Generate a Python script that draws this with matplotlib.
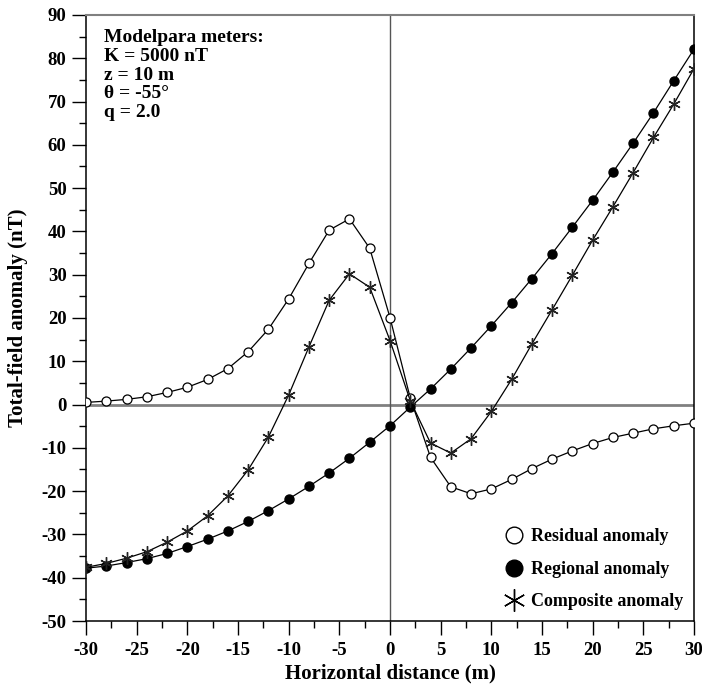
import numpy as np
import matplotlib.pyplot as plt
from matplotlib.lines import Line2D
from matplotlib.ticker import MultipleLocator

plt.rcParams['font.family'] = ['Liberation Serif', 'DejaVu Serif']
plt.rcParams['font.weight'] = 'bold'
plt.rcParams['axes.unicode_minus'] = False

# profile positions (m)
x = np.arange(-30, 31, 2)

# total-field anomalies (nT)
residual = [0.5, 0.8, 1.2, 1.8, 2.8, 4.0, 5.8, 8.3, 12.2, 17.4, 24.4, 32.6, 40.3, 42.9, 36.1,
            20.1,
            1.5, -12.2, -19.0, -20.6, -19.5, -17.3, -14.8, -12.6, -10.7, -9.0, -7.6, -6.6, -5.6, -4.9, -4.3]
regional = [-37.8, -37.3, -36.5, -35.6, -34.4, -32.8, -31.1, -29.2, -27.0, -24.5, -21.8, -18.9, -15.8, -12.4, -8.7,
            -4.9,
            -0.6, 3.6, 8.2, 13.1, 18.2, 23.5, 29.1, 34.9, 41.0, 47.2, 53.7, 60.4, 67.4, 74.8, 82.1]
composite = [-37.6, -36.7, -35.5, -34.0, -31.8, -29.2, -25.7, -21.1, -15.1, -7.5, 2.2, 13.3, 24.1, 30.2, 27.1,
             14.8,
             0.9, -8.9, -11.2, -7.9, -1.6, 5.8, 14.0, 21.9, 29.9, 38.0, 45.7, 53.6, 61.7, 69.4, 77.6]

labels = ['Residual anomaly', 'Regional anomaly', 'Composite anomaly']
params = ['Modelpara meters:', 'K = 5000 nT', 'z = 10 m', 'θ = -55°', 'q = 2.0']

fig = plt.figure(figsize=(7.02, 6.91), dpi=100)
ax = fig.add_axes([0.1225, 0.1013, 0.8661, 0.877])

ax.axhline(0, color='#808080', lw=2, zorder=1)
ax.axvline(0, color='#555555', lw=1, zorder=1)

asterisk = (6, 2, 0)
ax.plot(x, residual, color='k', lw=0.9, marker='o', ms=6.5, mfc='white', mec='k', mew=0.9, zorder=3)
ax.plot(x, regional, color='k', lw=0.9, marker='o', ms=6.5, mfc='k', mec='k', zorder=3)
ax.plot(x, composite, color='k', lw=0.9, marker=asterisk, ms=9, mec='#222222', mew=1.0, zorder=3)

ax.set_xlim(-30, 30)
ax.set_ylim(-50, 90)
ax.xaxis.set_major_locator(MultipleLocator(5))
ax.xaxis.set_minor_locator(MultipleLocator(2.5))
ax.yaxis.set_major_locator(MultipleLocator(10))
ax.yaxis.set_minor_locator(MultipleLocator(5))
ax.tick_params(which='major', length=10, width=1, labelsize=13.5)
ax.tick_params(which='minor', length=5, width=1)
ax.tick_params(axis='x', which='major', pad=5)
ax.tick_params(axis='y', which='major', pad=4)
for t in ax.get_xticklabels() + ax.get_yticklabels():
    t.set_fontweight('bold')

for s in ['left', 'bottom', 'right']:
    ax.spines[s].set_linewidth(1.1)
ax.spines['top'].set_color('#808080')
ax.spines['top'].set_linewidth(1.5)

ax.set_xlabel('Horizontal distance (m)', fontsize=15, fontweight='bold', labelpad=3)
ax.set_ylabel('Total-field anomaly (nT)', fontsize=15, fontweight='bold', labelpad=10)

ax.text(0.03, 0.977, '\n'.join(params), transform=ax.transAxes, va='top', ha='left',
        fontsize=14, fontweight='bold', linespacing=1.14)

handles = [
    Line2D([], [], ls='none', marker='o', ms=12, mfc='white', mec='k', mew=1.0),
    Line2D([], [], ls='none', marker='o', ms=12, mfc='k', mec='k'),
    Line2D([], [], ls='none', marker=asterisk, ms=16, mec='k', mew=1.0),
]
ax.legend(handles, labels, loc='lower right', frameon=False,
          handlelength=1.0, handletextpad=0.45, labelspacing=0.85,
          borderaxespad=0.2, prop={'weight': 'bold', 'size': 13})

fig.savefig('out.png', dpi=100)
